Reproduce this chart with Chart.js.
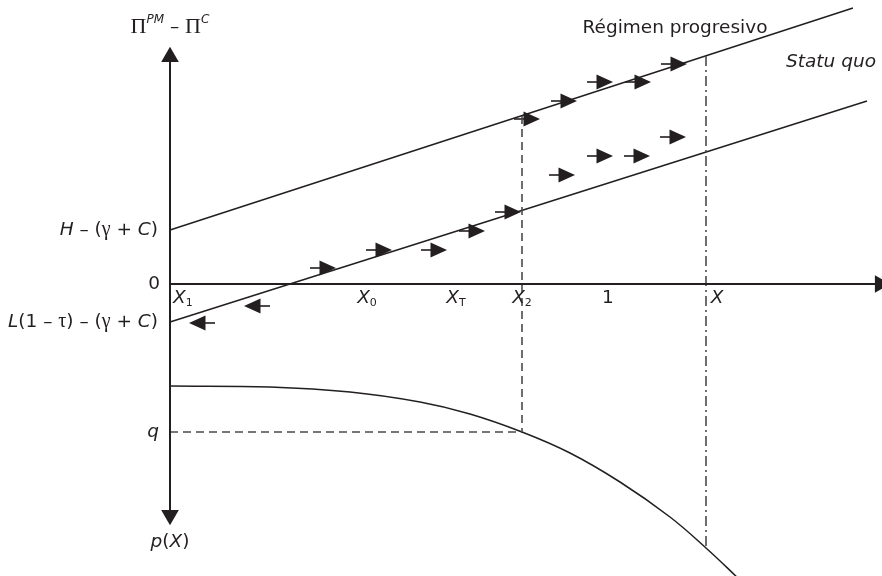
<!DOCTYPE html>
<html><head><meta charset="utf-8">
<script src="https://cdn.jsdelivr.net/npm/chart.js@4.4.1/dist/chart.umd.min.js"></script>
<style>html,body{margin:0;padding:0;background:#fff;}canvas{display:block;}</style>
</head><body>
<canvas id="c" width="882" height="576"></canvas>
<script>
// ---- diagram values (origin at the axes crossing; x = X, y = Π^PM − Π^C, negative y = p(X) side) ----
const regimenProgresivo = [{x:0,y:0.54},{x:6.83,y:2.76}];
const statuQuo = [{x:0,y:-0.38},{x:6.97,y:1.83}];
const pCurveX = [0, 1.00, 1.80, 2.50, 3.00, 3.52, 4.00, 4.50, 5.00, 5.36, 5.70];
const pCurveY = [-1.02, -1.03, -1.08, -1.18, -1.30, -1.48, -1.69, -1.98, -2.33, -2.64, -2.96];
const x2Guide = [{x:3.52,y:1.68},{x:3.52,y:-1.48}];
const qGuide = [{x:0,y:-1.48},{x:3.52,y:-1.48}];
const xGuide = [{x:5.36,y:2.28},{x:5.36,y:-2.64}];
const arrowsRightX = [3.57,3.94,4.30,4.68,5.04, 3.92,4.30,4.67,5.03, 1.53,2.09,2.64,3.02,3.38];
const arrowsRightY = [1.65,1.83,2.02,2.02,2.20, 1.09,1.28,1.28,1.47, 0.16,0.34,0.34,0.53,0.72];
const arrowsLeftX = [0.87, 0.32];
const arrowsLeftY = [-0.22, -0.39];
const xTickLabels = ['X1','X0','XT','X2','1','X'];
const xTickValues = [0.13, 1.97, 2.86, 3.52, 4.38, 5.47];

const ink = '#231f20';
const guide = '#4a4a4a';
const F = '"DejaVu Sans", "Open Sans", sans-serif';
const SERIF = '"Liberation Serif", "DejaVu Serif", serif';

function pts(xs, ys){ return xs.map((x,i)=>({x, y:ys[i]})); }

function makeArrow(){
  const c = document.createElement('canvas'); c.width = 26; c.height = 16;
  const g = c.getContext('2d');
  g.fillStyle = ink; g.strokeStyle = ink; g.lineWidth = 1.6;
  g.beginPath(); g.moveTo(0,8); g.lineTo(12,8); g.stroke();
  g.beginPath(); g.moveTo(9.5,0.5); g.lineTo(26,8); g.lineTo(9.5,15.5); g.closePath(); g.fill();
  return c;
}
const arrowImg = makeArrow();

// rich-text labels: anchor in data units
const R = (t)=>[t, '18.5px '+F, 0];
const I = (t)=>[t, 'italic 18.5px '+F, 0];
const G = (t)=>[t, '20px '+SERIF, 0];
const SUP = (t)=>[t, 'italic 12px '+F, -7];
const SUB = (t)=>[t, '11px '+F, 5];
const labels = [
  {x:0, y:2.57, align:'center', parts:[['Π','22px '+SERIF,0], SUP('PM'), R(' – '), ['Π','22px '+SERIF,0], SUP('C')]},
  {x:-0.12, y:0.54, align:'right', parts:[I('H'), R(' – ('), G('γ'), R(' + '), I('C'), R(')')]},
  {x:-0.10, y:0, align:'right', parts:[R('0')]},
  {x:-0.12, y:-0.38, align:'right', parts:[I('L'), R('(1 – '), G('τ'), R(') – ('), G('γ'), R(' + '), I('C'), R(')')]},
  {x:-0.11, y:-1.48, align:'right', parts:[I('q')]},
  {x:0, y:-2.58, align:'center', parts:[I('p'), R('('), I('X'), R(')')]},
  {x:0.03, y:-0.14, align:'left', parts:[I('X'), SUB('1')]},
  {x:xTickValues[1], y:-0.14, align:'center', parts:[I('X'), SUB('0')]},
  {x:xTickValues[2], y:-0.14, align:'center', parts:[I('X'), SUB('T')]},
  {x:xTickValues[3], y:-0.14, align:'center', parts:[I('X'), SUB('2')]},
  {x:xTickValues[4], y:-0.14, align:'center', parts:[R('1')]},
  {x:xTickValues[5], y:-0.14, align:'center', parts:[I('X')]},
  {x:5.05, y:2.56, align:'center', parts:[R('Régimen progresivo')]},
  {x:6.61, y:2.22, align:'center', parts:[I('Statu quo')]}
];

const labelPlugin = {
  id:'labels',
  afterDatasetsDraw(chart){
    const ctx = chart.ctx, sx = chart.scales.x, sy = chart.scales.y;
    ctx.save();
    ctx.fillStyle = ink; ctx.textBaseline = 'middle'; ctx.textAlign = 'left';
    labels.forEach(l=>{
      let w = 0;
      l.parts.forEach(p=>{ ctx.font = p[1]; w += ctx.measureText(p[0]).width; });
      let px = sx.getPixelForValue(l.x);
      const py = sy.getPixelForValue(l.y);
      if (l.align==='right') px -= w; else if (l.align==='center') px -= w/2;
      l.parts.forEach(p=>{ ctx.font = p[1]; ctx.fillText(p[0], px, py + p[2]); px += ctx.measureText(p[0]).width; });
    });
    ctx.restore();
  }
};

const lineDs = (data, opts)=>Object.assign({data, showLine:true, pointRadius:0, borderColor:ink, borderWidth:1.5, fill:false}, opts||{});

new Chart(document.getElementById('c'), {
  type:'scatter',
  data:{datasets:[
    lineDs([{x:0,y:2.28},{x:0,y:-2.32}], {borderWidth:2}),
    lineDs([{x:0,y:0},{x:7.10,y:0}], {borderWidth:2}),
    {data:[{x:0,y:2.27},{x:0,y:-2.31},{x:7.10,y:0}], pointStyle:'triangle', pointRadius:10.2,
     pointRotation:(c)=>[0,180,90][c.dataIndex], backgroundColor:ink, borderWidth:0, clip:false},
    lineDs(x2Guide, {borderColor:guide, borderWidth:1.6, borderDash:[8,5]}),
    lineDs(qGuide, {borderColor:guide, borderWidth:1.6, borderDash:[8,5]}),
    lineDs(xGuide, {borderColor:guide, borderWidth:1.6, borderDash:[10,4,2,4]}),
    lineDs(regimenProgresivo),
    lineDs(statuQuo),
    lineDs(pts(pCurveX,pCurveY), {tension:0.4}),
    {data:pts(arrowsRightX, arrowsRightY), pointStyle:arrowImg, pointRotation:0, pointRadius:10},
    {data:pts(arrowsLeftX, arrowsLeftY), pointStyle:arrowImg, pointRotation:180, pointRadius:10}
  ]},
  options:{
    responsive:false, animation:false, events:[],
    layout:{padding:0, autoPadding:false},
    plugins:{legend:{display:false}, tooltip:{enabled:false}},
    scales:{
      x:{type:'linear', min:-1.70, max:7.12, display:false},
      y:{type:'linear', min:-2.92, max:2.84, display:false}
    }
  },
  plugins:[labelPlugin]
});
</script>
</body></html>
